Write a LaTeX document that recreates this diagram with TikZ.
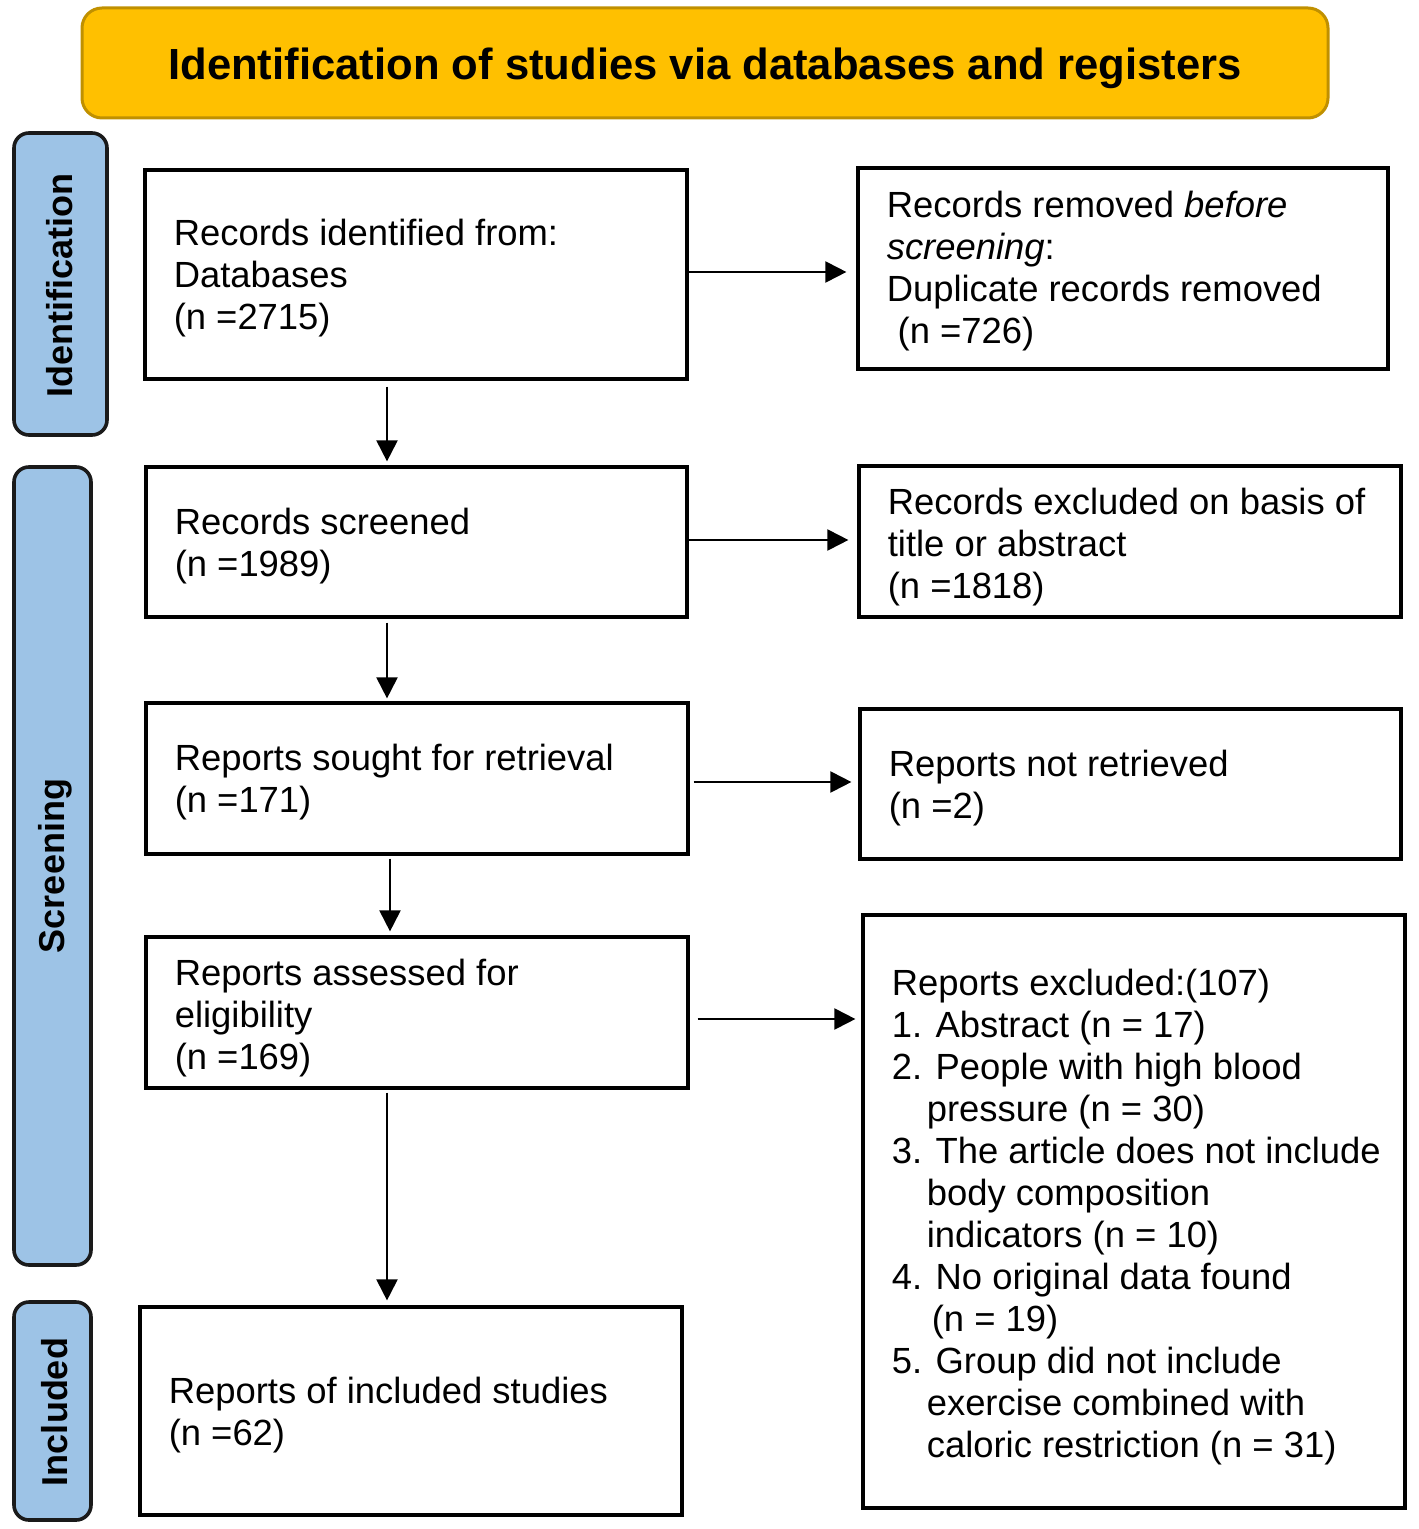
\documentclass[tikz,border=0pt]{standalone}
\usepackage{fontspec}
\setmainfont{Liberation Sans}
\usetikzlibrary{arrows.meta,calc}
\definecolor{titlefill}{HTML}{FFC000}
\definecolor{titleline}{HTML}{C09000}
\definecolor{sidefill}{HTML}{9DC3E6}
\definecolor{sideline}{HTML}{1A1A1A}
\begin{document}
\begin{tikzpicture}[x=0.5pt,y=-0.5pt,
  box/.style={draw=black,line width=1.6pt,fill=white,inner sep=0pt},
  txt/.style={anchor=west,inner sep=0pt,align=left,font=\fontsize{18.2}{21}\selectfont},
  side/.style={draw=sideline,fill=sidefill,line width=1.8pt,rounded corners=7.5pt,inner sep=0pt},
  sidetxt/.style={rotate=90,inner sep=0pt,font=\fontsize{18}{21}\selectfont\bfseries},
  arr/.style={draw=black,line width=1pt,-{Triangle[length=10.5pt,width=10.5pt]}}]
\useasboundingbox (0,0) rectangle (1418,1529);

% title
\node[draw=titleline,fill=titlefill,line width=1.5pt,rounded corners=10pt,
  minimum width=623pt,minimum height=55pt,inner sep=0pt] (T) at (705,63) {};
\node[inner sep=0pt,font=\fontsize{21.8}{26}\selectfont\bfseries] (Tt) at ([yshift=-2.5pt]T.center) {Identification of studies via databases and registers};

% side bars
\node[side,minimum width=46.5pt,minimum height=151pt] (S1) at (60.5,284) {};
\node[sidetxt] (S1t) at (60,286) {Identification};
\node[side,minimum width=38.5pt,minimum height=399pt] (S2) at (52.5,866) {};
\node[sidetxt] (S2t) at (55,866) {Screening};
\node[side,minimum width=38.5pt,minimum height=109pt] (S3) at (52.5,1411) {};
\node[sidetxt] (S3t) at (55,1412) {Included};

% boxes
\node[box,minimum width=271pt,minimum height=104.5pt] (A) at (416,274.5) {};
\node[txt] (At) at ([xshift=15pt,yshift=-1.8pt]A.west) {Records identified from:\\Databases\\(n =2715)};

\node[box,minimum width=265pt,minimum height=100.5pt] (B) at (1123,268.5) {};
\node[txt] (Bt) at ([xshift=15pt,yshift=-1.5pt]B.west) {Records removed \textit{before}\\\textit{screening}:\\Duplicate records removed\\\hspace*{0.3em}(n =726)};

\node[box,minimum width=270.5pt,minimum height=75pt] (C) at (416.5,542) {};
\node[txt] (Ct) at ([xshift=15pt,yshift=-1.8pt]C.west) {Records screened\\(n =1989)};

\node[box,minimum width=271pt,minimum height=75.5pt] (D) at (1130,541.5) {};
\node[txt] (Dt) at ([xshift=15pt,yshift=-3pt]D.west) {Records excluded on basis of\\title or abstract\\(n =1818)};

\node[box,minimum width=271pt,minimum height=75.5pt] (E) at (417,778.5) {};
\node[txt] (Et) at ([xshift=15pt,yshift=-1.8pt]E.west) {Reports sought for retrieval\\(n =171)};

\node[box,minimum width=270.5pt,minimum height=75pt] (F) at (1130.5,784) {};
\node[txt] (Ft) at ([xshift=15pt,yshift=-1.8pt]F.west) {Reports not retrieved\\(n =2)};

\node[box,minimum width=271pt,minimum height=75.5pt] (G) at (417,1012.5) {};
\node[txt] (Gt) at ([xshift=15pt,yshift=-3pt]G.west) {Reports assessed for\\eligibility\\(n =169)};

\node[box,minimum width=271pt,minimum height=296.5pt] (H) at (1134,1211.5) {};
\node[txt] (Ht) at ([xshift=15pt,yshift=-2.8pt]H.west) {Reports excluded:(107)\\
1. Abstract (n = 17)\\
2. People with high blood\\
\hspace*{17.5pt}pressure (n = 30)\\
3. The article does not include\\
\hspace*{17.5pt}body composition\\
\hspace*{17.5pt}indicators (n = 10)\\
4. No original data found\\
\hspace*{20pt}(n = 19)\\
5. Group did not include\\
\hspace*{17.5pt}exercise combined with\\
\hspace*{17.5pt}caloric restriction (n = 31)};

\node[box,minimum width=271pt,minimum height=104pt] (I) at (411,1411) {};
\node[txt] (It) at ([xshift=15pt,yshift=-1.8pt]I.west) {Reports of included studies\\(n =62)};

% connectors
\coordinate (c1) at (387,0);
\coordinate (c2) at (390,0);
\draw[arr,shorten <=3pt,shorten >=2pt] (A.south -| c1) -- (C.north -| c1);
\draw[arr,shorten <=2pt,shorten >=1.5pt] (C.south -| c1) -- (E.north -| c1);
\draw[arr,shorten <=1.5pt,shorten >=2pt] (E.south -| c2) -- (G.north -| c2);
\draw[arr,shorten <=1.5pt,shorten >=2.5pt] (G.south -| c1) -- (I.north -| c1);

\draw[arr,shorten >=5pt] ([yshift=1.25pt]A.east) -- ([yshift=1.25pt]A.east -| B.west);
\draw[arr,shorten >=4.5pt] ([yshift=1pt]C.east) -- ([yshift=1pt]C.east -| D.west);
\draw[arr,shorten <=2pt,shorten >=3.5pt] ([yshift=-1.75pt]E.east) -- ([yshift=-1.75pt]E.east -| F.west);
\draw[arr,shorten <=4pt,shorten >=3pt] ([yshift=-3.25pt]G.east) -- ([yshift=-3.25pt]G.east -| H.west);
\end{tikzpicture}
\end{document}
